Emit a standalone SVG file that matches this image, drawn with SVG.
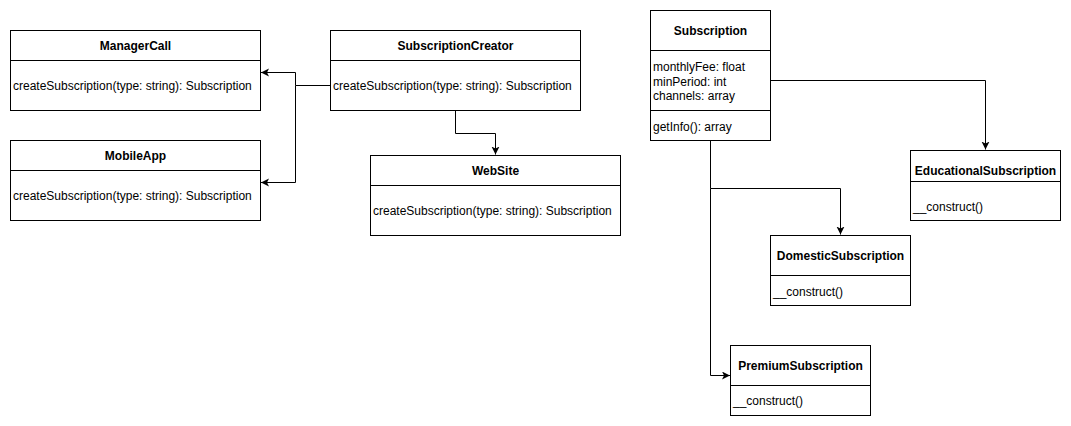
<svg xmlns="http://www.w3.org/2000/svg" width="1071" height="426" viewBox="0 0 1071 426">
  <style>
    .box { fill: #ffffff; stroke: #000000; stroke-width: 1; }
    .div { stroke: #000000; stroke-width: 1; fill: none; }
    .title { font-family: "Liberation Sans", Arial, sans-serif; font-size: 12px; font-weight: bold; fill: #000000; text-anchor: middle; }
    .member { font-family: "Liberation Sans", Arial, sans-serif; font-size: 12px; fill: #000000; }
    .edge { fill: none; stroke: #000000; stroke-width: 1; }
  </style>
  <defs>
    <marker id="arrow" markerUnits="userSpaceOnUse" markerWidth="10" markerHeight="10" refX="8" refY="4" orient="auto">
      <path d="M0,0 L8,4 L0,8 L2,4 Z" fill="#000000"/>
    </marker>
  </defs>
  <rect width="1071" height="426" fill="#ffffff"/>

  <!-- connectors -->
  <g id="connectors">
    <path class="edge" d="M330.5,85.5 H295.5 V72.5 H261" marker-end="url(#arrow)"/>
    <path class="edge" d="M295.5,85.5 V182.5 H261" marker-end="url(#arrow)"/>
    <path class="edge" d="M455.5,110 V133.5 H495.5 V154.5" marker-end="url(#arrow)"/>
    <path class="edge" d="M770,80.5 H985.5 V149.5" marker-end="url(#arrow)"/>
    <path class="edge" d="M710.5,140 V188.5 H840.5 V234.5" marker-end="url(#arrow)"/>
    <path class="edge" d="M710.5,188.5 V375.5 H730" marker-end="url(#arrow)"/>
  </g>

  <!-- ManagerCall -->
  <g id="ManagerCall">
    <rect class="box" x="10.5" y="30.5" width="250" height="80"/>
    <line class="div" x1="10.5" y1="60.5" x2="260.5" y2="60.5"/>
    <text class="title" x="135.5" y="49.5">ManagerCall</text>
    <text class="member" x="13" y="90">createSubscription(type: string): Subscription</text>
  </g>

  <!-- MobileApp -->
  <g id="MobileApp">
    <rect class="box" x="10.5" y="140.5" width="250" height="80"/>
    <line class="div" x1="10.5" y1="170.5" x2="260.5" y2="170.5"/>
    <text class="title" x="135.5" y="159.5">MobileApp</text>
    <text class="member" x="13" y="200">createSubscription(type: string): Subscription</text>
  </g>

  <!-- SubscriptionCreator -->
  <g id="SubscriptionCreator">
    <rect class="box" x="330.5" y="30.5" width="250" height="80"/>
    <line class="div" x1="330.5" y1="60.5" x2="580.5" y2="60.5"/>
    <text class="title" x="455.5" y="49.5">SubscriptionCreator</text>
    <text class="member" x="333" y="90">createSubscription(type: string): Subscription</text>
  </g>

  <!-- WebSite -->
  <g id="WebSite">
    <rect class="box" x="370.5" y="155.5" width="250" height="80"/>
    <line class="div" x1="370.5" y1="185.5" x2="620.5" y2="185.5"/>
    <text class="title" x="495.5" y="174.5">WebSite</text>
    <text class="member" x="373" y="215">createSubscription(type: string): Subscription</text>
  </g>

  <!-- Subscription -->
  <g id="Subscription">
    <rect class="box" x="650.5" y="10.5" width="120" height="130"/>
    <line class="div" x1="650.5" y1="50.5" x2="770.5" y2="50.5"/>
    <line class="div" x1="650.5" y1="110.5" x2="770.5" y2="110.5"/>
    <text class="title" x="710.5" y="35">Subscription</text>
    <text class="member" x="653" y="71">monthlyFee: float</text>
    <text class="member" x="653" y="85.5">minPeriod: int</text>
    <text class="member" x="653" y="100">channels: array</text>
    <text class="member" x="653" y="131">getInfo(): array</text>
  </g>

  <!-- EducationalSubscription -->
  <g id="EducationalSubscription">
    <rect class="box" x="910.5" y="150.5" width="150" height="70"/>
    <line class="div" x1="910.5" y1="181.5" x2="1060.5" y2="181.5"/>
    <text class="title" x="985.5" y="175">EducationalSubscription</text>
    <text class="member" x="913" y="211">__construct()</text>
  </g>

  <!-- DomesticSubscription -->
  <g id="DomesticSubscription">
    <rect class="box" x="770.5" y="235.5" width="140" height="70"/>
    <line class="div" x1="770.5" y1="275.5" x2="910.5" y2="275.5"/>
    <text class="title" x="840.5" y="260">DomesticSubscription</text>
    <text class="member" x="773" y="296">__construct()</text>
  </g>

  <!-- PremiumSubscription -->
  <g id="PremiumSubscription">
    <rect class="box" x="730.5" y="345.5" width="140" height="70"/>
    <line class="div" x1="730.5" y1="385.5" x2="870.5" y2="385.5"/>
    <text class="title" x="800.5" y="370">PremiumSubscription</text>
    <text class="member" x="733" y="405">__construct()</text>
  </g>
</svg>
